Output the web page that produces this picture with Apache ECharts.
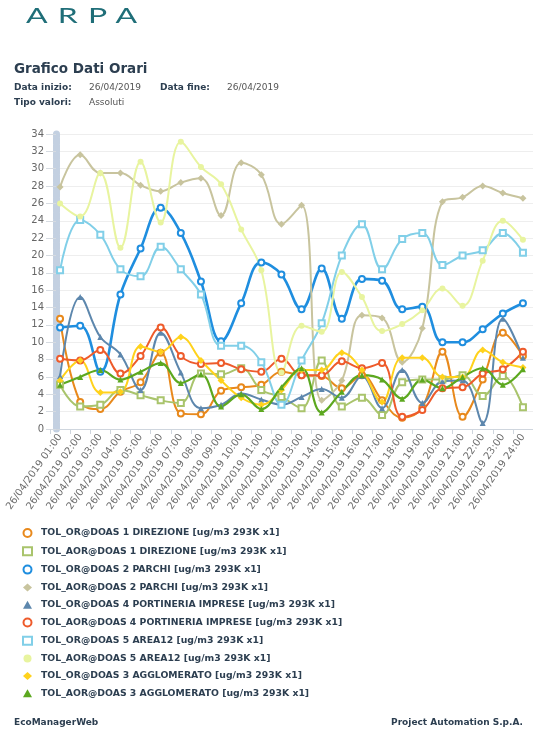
<!DOCTYPE html>
<html>
<head>
<meta charset="utf-8">
<script src="https://cdn.jsdelivr.net/npm/echarts@6/dist/echarts.min.js"></script>
<style>
  html, body { margin:0; padding:0; background:#fff; }
  #wrap { position:relative; width:533px; height:731px; overflow:hidden; font-family:"DejaVu Sans", Verdana, sans-serif; }
  #chart { position:absolute; left:0; top:0; width:533px; height:731px; }
  .t { position:absolute; white-space:nowrap; color:#2c3e50; }
  .logo { left:26px; top:2px; font-family:Lato, "DejaVu Sans", sans-serif; font-weight:400; font-size:22px; line-height:26px; letter-spacing:7px; color:#1f6e78; transform:scaleX(1.45); transform-origin:left top; }
  .title { left:14px; top:60px; font-size:13.5px; font-weight:bold; }
  .lab { font-size:9px; font-weight:bold; }
  .val { font-size:9px; color:#555; }
</style>
</head>
<body>
<div id="wrap">
  <div id="chart"></div>
  <div class="t logo">ARPA</div>
  <div class="t title">Grafico Dati Orari</div>
  <div class="t lab" style="left:14px;top:82px;">Data inizio:</div>
  <div class="t val" style="left:89px;top:82px;">26/04/2019</div>
  <div class="t lab" style="left:160px;top:82px;">Data fine:</div>
  <div class="t val" style="left:227px;top:82px;">26/04/2019</div>
  <div class="t lab" style="left:14px;top:97px;">Tipo valori:</div>
  <div class="t val" style="left:89px;top:97px;">Assoluti</div>
  <div class="t lab" style="left:14px;top:717px;">EcoManagerWeb</div>
  <div class="t lab" style="right:10px;top:717px;">Project Automation S.p.A.</div>
</div>
<script>
// ---- data ----
const categories = [
  "26/04/2019 01:00","26/04/2019 02:00","26/04/2019 03:00","26/04/2019 04:00",
  "26/04/2019 05:00","26/04/2019 06:00","26/04/2019 07:00","26/04/2019 08:00",
  "26/04/2019 09:00","26/04/2019 10:00","26/04/2019 11:00","26/04/2019 12:00",
  "26/04/2019 13:00","26/04/2019 14:00","26/04/2019 15:00","26/04/2019 16:00",
  "26/04/2019 17:00","26/04/2019 18:00","26/04/2019 19:00","26/04/2019 20:00",
  "26/04/2019 21:00","26/04/2019 22:00","26/04/2019 23:00","26/04/2019 24:00"
];
const seriesNames = [
  "TOL_OR@DOAS 1 DIREZIONE [ug/m3 293K x1]",
  "TOL_AOR@DOAS 1 DIREZIONE [ug/m3 293K x1]",
  "TOL_OR@DOAS 2 PARCHI [ug/m3 293K x1]",
  "TOL_AOR@DOAS 2 PARCHI [ug/m3 293K x1]",
  "TOL_OR@DOAS 4 PORTINERIA IMPRESE [ug/m3 293K x1]",
  "TOL_AOR@DOAS 4 PORTINERIA IMPRESE [ug/m3 293K x1]",
  "TOL_OR@DOAS 5 AREA12 [ug/m3 293K x1]",
  "TOL_AOR@DOAS 5 AREA12 [ug/m3 293K x1]",
  "TOL_OR@DOAS 3 AGGLOMERATO [ug/m3 293K x1]",
  "TOL_AOR@DOAS 3 AGGLOMERATO [ug/m3 293K x1]"
];
const orDoas1  = [12.7, 3.1, 2.3, 4.3, 5.4, 8.8, 1.8, 1.7, 4.4, 4.8, 5.1, 6.6, 6.2, 6.1, 4.7, 6.2, 3.3, 1.3, 2.5, 8.9, 1.4, 5.7, 11.1, 8.4];
const aorDoas1 = [5.1, 2.6, 2.8, 4.5, 3.9, 3.3, 3.0, 6.4, 6.3, 7.0, 4.5, 3.7, 2.4, 7.9, 2.6, 3.6, 1.6, 5.4, 5.7, 5.7, 6.2, 3.8, 6.1, 2.5];
const orDoas2  = [11.7, 11.9, 6.6, 15.5, 20.8, 25.5, 22.6, 17.0, 10.1, 14.5, 19.2, 17.8, 13.8, 18.5, 12.7, 17.3, 17.1, 13.8, 14.1, 10.0, 10.0, 11.5, 13.3, 14.5];
const aorDoas2 = [27.9, 31.6, 29.5, 29.5, 28.1, 27.4, 28.4, 28.9, 24.6, 30.7, 29.3, 23.6, 25.8, 3.3, 5.6, 13.1, 12.8, 7.7, 11.6, 26.2, 26.7, 28.0, 27.2, 26.6];
const orDoas4  = [6.1, 15.2, 10.6, 8.6, 4.5, 11.1, 6.5, 2.4, 2.8, 4.1, 3.4, 2.8, 3.7, 4.6, 3.6, 6.1, 2.4, 6.8, 3.0, 5.5, 5.6, 0.7, 12.7, 8.2];
const aorDoas4 = [8.1, 7.9, 9.1, 6.4, 8.4, 11.7, 8.4, 7.5, 7.6, 6.9, 6.6, 8.1, 6.2, 6.2, 7.8, 7.0, 7.6, 1.4, 2.2, 4.7, 4.8, 6.4, 6.9, 8.9];
const orDoas5  = [18.3, 24.1, 22.4, 18.4, 17.6, 21.0, 18.4, 15.5, 9.6, 9.6, 7.7, 2.8, 7.9, 12.2, 20.0, 23.6, 18.4, 21.9, 22.6, 18.9, 20.0, 20.6, 22.6, 20.3];
const aorDoas5 = [26.0, 24.5, 29.5, 20.9, 30.8, 23.8, 33.1, 30.2, 28.2, 23.0, 18.3, 6.5, 11.9, 11.2, 18.1, 15.2, 11.3, 12.1, 13.7, 16.2, 14.2, 19.4, 24.0, 21.8];
const orDoas3  = [5.6, 7.9, 4.2, 4.3, 9.5, 8.9, 10.6, 7.9, 5.6, 3.6, 2.8, 4.5, 6.8, 6.8, 8.8, 6.8, 3.1, 8.2, 8.2, 6.0, 6.0, 9.1, 7.7, 7.1];
const aorDoas3 = [5.1, 6.0, 6.8, 5.7, 6.6, 7.6, 5.3, 6.3, 2.6, 4.0, 2.3, 4.8, 7.0, 1.9, 4.3, 6.2, 5.7, 3.5, 5.7, 4.7, 6.0, 7.0, 5.1, 6.9];
const seriesData = [orDoas1, aorDoas1, orDoas2, aorDoas2, orDoas4, aorDoas4, orDoas5, aorDoas5, orDoas3, aorDoas3];
const yTicks = { min: 0, max: 34, interval: 2 };

// ---- styles ----
const colors  = ["#e8891c", "#a9c46c", "#1f8edf", "#c8c49e", "#5d87ad", "#ee5b2b", "#81cfe8", "#e8f49f", "#ffd21c", "#5ca81f"];
const symbols = ["emptyCircle", "emptyRect", "emptyCircle", "diamond", "triangle", "emptyCircle", "emptyRect", "circle", "diamond", "triangle"];
const widths  = [2, 2, 2.6, 2, 2, 2, 2, 2, 2, 2.2];

const chart = echarts.init(document.getElementById('chart'), null, { renderer: 'canvas' });
const series = seriesNames.map((name, i) => ({
  name: name,
  type: 'line',
  data: seriesData[i],
  smooth: 0.4,
  symbol: symbols[i],
  symbolSize: symbols[i] === 'diamond' ? 7 : 6,
  showSymbol: true,
  color: colors[i],
  lineStyle: { width: widths[i], color: colors[i] },
  itemStyle: { color: colors[i], borderColor: colors[i], borderWidth: symbols[i].startsWith('empty') ? 2 : 0 },
  emphasis: { disabled: true },
  animation: false
}));

const legendIcon = s => s.startsWith('empty') ? (s === 'emptyRect' ? 'rect' : 'circle') : s;

chart.setOption({
  animation: false,
  textStyle: { fontFamily: '"DejaVu Sans", Verdana, sans-serif' },
  grid: { left: 50, top: 134, bottom: 302, width: 488, containLabel: false },
  xAxis: {
    type: 'category',
    data: categories,
    boundaryGap: true,
    axisLine: { lineStyle: { color: '#cfd6de', width: 1 } },
    axisTick: { show: true, length: 5, lineStyle: { color: '#cfd6de' } },
    axisLabel: { interval: 0, rotate: 55, fontSize: 10, color: '#6b6b6b', margin: 6,
                 fontFamily: '"DejaVu Sans", Verdana, sans-serif' },
    splitLine: { show: false }
  },
  yAxis: {
    type: 'value',
    min: yTicks.min, max: yTicks.max, interval: yTicks.interval,
    offset: -6,
    axisLine: { show: true, lineStyle: { color: '#c3d0e1', width: 7, type: [6, 1.5] } },
    axisTick: { show: true, length: 10, lineStyle: { color: '#d6dbe1' } },
    axisLabel: { fontSize: 10, color: '#666', margin: 12, fontFamily: '"DejaVu Sans", Verdana, sans-serif' },
    splitLine: { show: true, lineStyle: { color: '#eeeeee', width: 1 } }
  },
  legend: {
    orient: 'vertical',
    left: 22, top: 528, padding: 0,
    itemWidth: 9, itemHeight: 8, itemGap: 8.3,
    textStyle: { fontSize: 9.3, fontWeight: 'bold', color: '#2c3e50', padding: [0, 0, 0, 4],
                 fontFamily: '"DejaVu Sans", Verdana, sans-serif' },
    data: seriesNames.map((n, i) => {
      const empty = symbols[i].startsWith('empty');
      return { name: n, icon: legendIcon(symbols[i]),
        itemStyle: { color: empty ? '#ffffff' : colors[i], borderColor: colors[i], borderWidth: empty ? 2 : 0 } };
    }),
    selectedMode: false
  },
  series: series
});
</script>
</body>
</html>
